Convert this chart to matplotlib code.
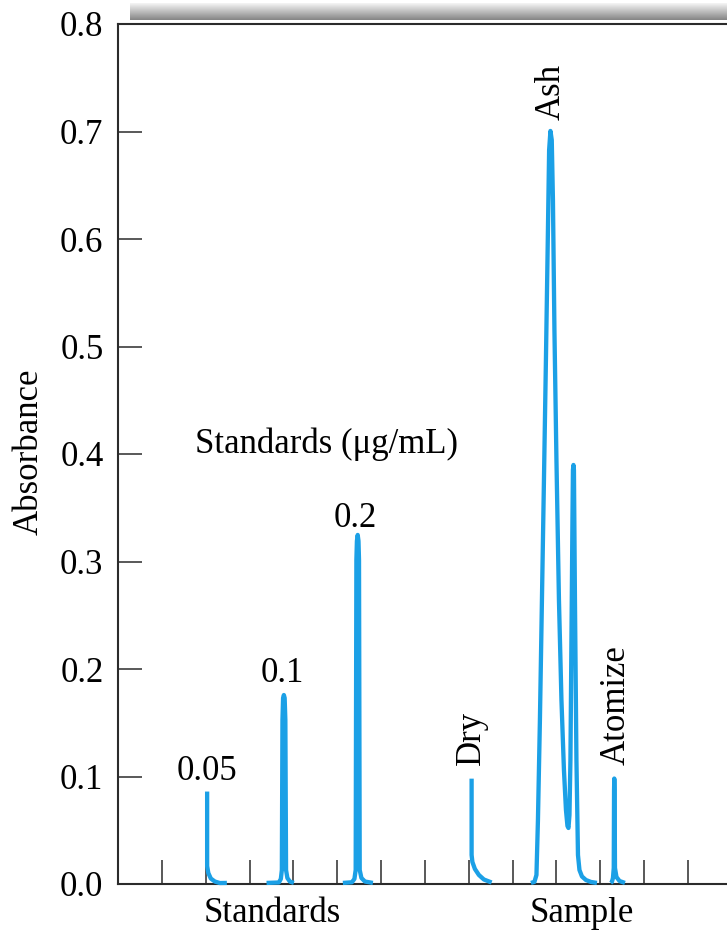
import numpy as np
import matplotlib
matplotlib.use("Agg")
import matplotlib.pyplot as plt

# ---- data (time units, absorbance) ----
std005_t = [2.033, 2.033, 2.060, 2.117, 2.209, 2.323, 2.483]
std005_a = [0.086, 0.0167, 0.0102, 0.0051, 0.0023, 0.0009, 0.001]

std01_t = [3.388, 3.669, 3.714, 3.737, 3.751, 3.765, 3.783, 3.801, 3.817, 3.833, 3.863, 3.920, 4.011]
std01_a = [0.001, 0.0014, 0.0047, 0.013, 0.1526, 0.173, 0.1758, 0.173, 0.1526, 0.013, 0.0056, 0.0023, 0.001]

std02_t = [5.129, 5.334, 5.392, 5.421, 5.437, 5.449, 5.467, 5.485, 5.497, 5.513, 5.552, 5.632, 5.814]
std02_a = [0.001, 0.0016, 0.0047, 0.013, 0.3014, 0.3191, 0.3247, 0.3191, 0.3014, 0.013, 0.0056, 0.0023, 0.001]

dry_t = [8.065, 8.065, 8.083, 8.140, 8.231, 8.345, 8.522]
dry_a = [0.098, 0.027, 0.0205, 0.014, 0.0084, 0.0042, 0.0014]

ash_t = [9.418, 9.498, 9.544, 9.578, 9.623, 9.669, 9.715, 9.760, 9.806, 9.833, 9.863,
         9.893, 9.920, 9.954, 10.000, 10.057, 10.114, 10.171, 10.217, 10.251, 10.274,
         10.297, 10.319, 10.342, 10.365, 10.376, 10.388, 10.399, 10.422, 10.456, 10.491,
         10.525, 10.582, 10.673, 10.787, 10.924]
ash_a = [0.001, 0.002, 0.0084, 0.0595, 0.1526, 0.2642, 0.3758, 0.4874, 0.6084, 0.6828, 0.7005,
         0.6921, 0.6363, 0.5153, 0.3944, 0.2642, 0.1712, 0.1060, 0.0688, 0.0540, 0.0521,
         0.0642, 0.1153, 0.2270, 0.3386, 0.3851, 0.3898, 0.3851, 0.2642, 0.1153, 0.027,
         0.013, 0.007, 0.0037, 0.0019, 0.001]

atom_t = [11.237, 11.266, 11.289, 11.307, 11.314, 11.319, 11.326, 11.335, 11.369, 11.438, 11.563]
atom_a = [0.001, 0.002, 0.0056, 0.0149, 0.0874, 0.0981, 0.0874, 0.0149, 0.0065, 0.0028, 0.001]

traces = [(std005_t, std005_a), (std01_t, std01_a), (std02_t, std02_a),
          (dry_t, dry_a), (ash_t, ash_a), (atom_t, atom_a)]

y_ticks = [0.0, 0.1, 0.2, 0.3, 0.4, 0.5, 0.6, 0.7, 0.8]
y_ticklabels = ["0.0", "0.1", "0.2", "0.3", "0.4", "0.5", "0.6", "0.7", "0.8"]
x_ticks = list(range(1, 14))

std_labels = ["0.05", "0.1", "0.2"]
std_label_pos = [(2.03, 0.0967), (3.74, 0.188), (5.42, 0.332)]
step_labels = ["Dry", "Ash", "Atomize"]
step_label_pos = [(8.06, 0.111), (9.88, 0.711), (11.35, 0.111)]

# ---- figure ----
W, H = 727, 931
fig = plt.figure(figsize=(W / 100, H / 100), dpi=100)
plt.rcParams['font.family'] = ['Liberation Serif', 'DejaVu Serif']
FS = 25

ax_l, ax_r, ax_b, ax_t = 118 / W, 1.0, 1 - 884 / H, 1 - 24 / H
ax = fig.add_axes([ax_l, ax_b, ax_r - ax_l, ax_t - ax_b])

# gradient bar above the plot
gax = fig.add_axes([130 / W, 1 - 20 / H, (W - 130) / W, 17 / H])
grad = np.linspace(0.96, 0.52, 64)[:, None] * np.ones((1, 256))
gax.imshow(grad, cmap='gray', vmin=0, vmax=1, aspect='auto', interpolation='bilinear')
gax.axis('off')

blue = '#1BA0E6'
for t, a in traces:
    ax.plot(t, a, color=blue, lw=3.1, solid_joinstyle='round', solid_capstyle='butt',
            zorder=3, clip_on=False)

ax.set_xlim(0, 13.89)
ax.set_ylim(0, 0.8)
ax.set_xticks(x_ticks)
ax.set_xticklabels([])
ax.set_yticks(y_ticks)
ax.set_yticklabels(y_ticklabels)

spine_c = '#2b2b2b'
for s in ['left', 'bottom', 'top']:
    ax.spines[s].set_color(spine_c)
    ax.spines[s].set_linewidth(1.5)
ax.spines['right'].set_visible(False)
ax.tick_params(axis='both', direction='in', length=17.5, width=1.1, color=spine_c)
ax.tick_params(axis='y', labelsize=FS, pad=10.5)
ax.tick_params(axis='x', top=False)

fig.text(29 / W, 1 - 452 / H, "Absorbance", rotation=90, ha='center', va='center', fontsize=FS)

ax.text(4.75, 0.401, "Standards (μg/mL)", ha='center', va='baseline', fontsize=FS)
for lab, (x, y) in zip(std_labels, std_label_pos):
    ax.text(x, y, lab, ha='center', va='baseline', fontsize=FS)
for lab, (x, y) in zip(step_labels, step_label_pos):
    ax.text(x, y, lab, ha='center', va='bottom', rotation=90, fontsize=FS)

fig.text(272.5 / W, 1 - 922 / H, "Standards", ha='center', va='baseline', fontsize=FS)
fig.text(581.5 / W, 1 - 922 / H, "Sample", ha='center', va='baseline', fontsize=FS)

fig.savefig("out.png", dpi=100)
